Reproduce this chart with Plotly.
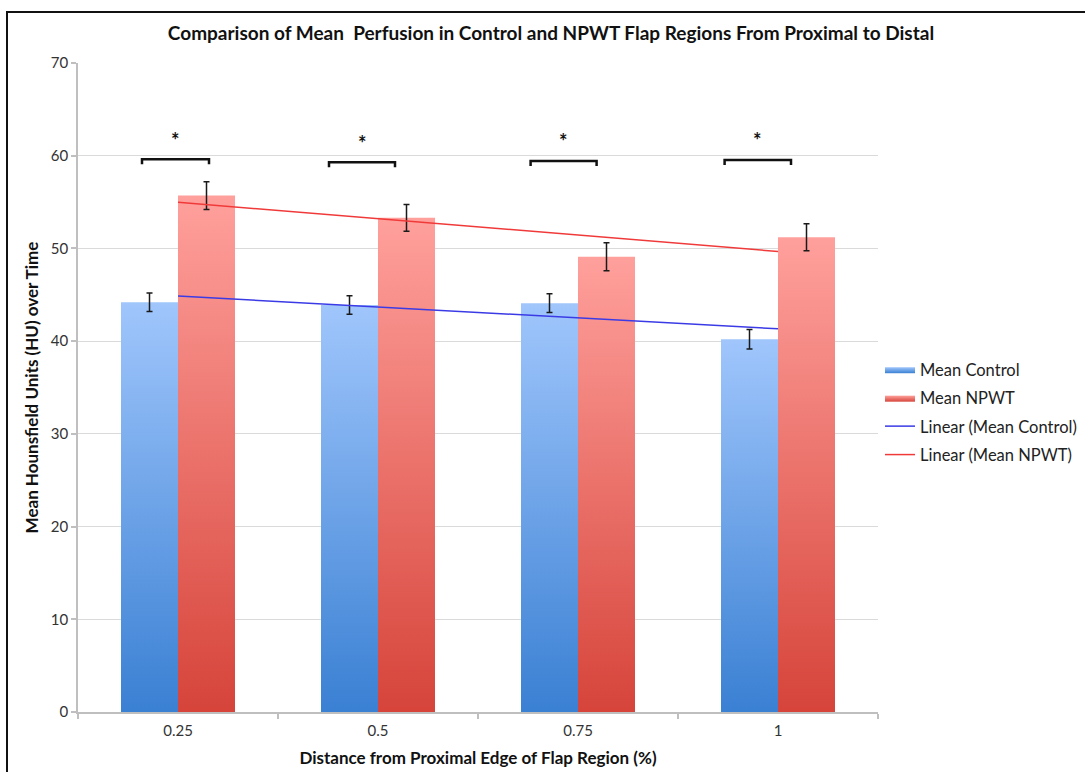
import numpy as np
import plotly.graph_objects as go

# Flap region distance categories (x axis)
categories = ["0.25", "0.5", "0.75", "1"]

# Mean perfusion (Hounsfield units) per region
mean_control = [44.2, 43.9, 44.1, 40.2]
mean_npwt = [55.7, 53.3, 49.1, 51.2]

# Error bar half-lengths
err_control = [1.0, 1.0, 1.0, 1.05]
err_npwt = [1.5, 1.45, 1.5, 1.45]

# Significance brackets: left/right extents (category units) and height
bracket_left = [0.82, 1.755, 2.763, 3.733]
bracket_right = [1.155, 2.085, 3.093, 4.065]
bracket_top = [59.62, 59.3, 59.44, 59.55]
bracket_labels = ["*", "*", "*", "*"]

FONT = "Lato"
BAR_W = 0.285
pos = np.arange(1, len(categories) + 1)

ctrl_scale = [[0, "#3A80D3"], [1, "#A0C6FC"]]
npwt_scale = [[0, "#D6443A"], [1, "#FFA09C"]]

fig = go.Figure()


def add_bar_series(values, offset_left, scale, name, group):
    for i, (x, v) in enumerate(zip(pos, values)):
        x0 = x - BAR_W if offset_left else x
        x1 = x0 + BAR_W
        fig.add_trace(go.Scatter(
            x=[x0, x0, x1, x1, x0], y=[0, v, v, 0, 0],
            mode="lines", fill="toself", line=dict(width=0),
            fillgradient=dict(type="vertical", colorscale=scale),
            name=name, legendgroup=group, showlegend=(i == 0),
            hoverinfo="skip",
        ))


add_bar_series(mean_control, True, ctrl_scale, "Mean Control", "ctrl")
add_bar_series(mean_npwt, False, npwt_scale, "Mean NPWT", "npwt")

# Error bars at each bar's centre
for vals, errs, shift in ((mean_control, err_control, -BAR_W / 2),
                          (mean_npwt, err_npwt, BAR_W / 2)):
    fig.add_trace(go.Scatter(
        x=pos + shift, y=vals, mode="markers",
        marker=dict(size=1, color="rgba(0,0,0,0)"),
        error_y=dict(type="data", array=errs, visible=True,
                     color="#1a1a1a", thickness=1.5, width=3),
        showlegend=False, hoverinfo="skip",
    ))

# Linear trend lines fitted to each series
for vals, name, color, group in ((mean_control, "Linear (Mean Control)", "#3B3BE6", "lc"),
                                 (mean_npwt, "Linear (Mean NPWT)", "#F03A3A", "ln")):
    slope, intercept = np.polyfit(pos, vals, 1)
    fig.add_trace(go.Scatter(
        x=[pos[0], pos[-1]], y=[slope * pos[0] + intercept, slope * pos[-1] + intercept],
        mode="lines", line=dict(color=color, width=1.5),
        name=name, legendgroup=group,
    ))

shapes = []
annotations = []
for xl, xr, yt, lab in zip(bracket_left, bracket_right, bracket_top, bracket_labels):
    drop = 0.55
    shapes.append(dict(
        type="path", xref="x", yref="y",
        path=f"M {xl},{yt - drop} L {xl},{yt} L {xr},{yt} L {xr},{yt - drop}",
        line=dict(color="#111111", width=2.5),
    ))
    annotations.append(dict(
        x=(xl + xr) / 2, y=yt + 0.6, xref="x", yref="y", text=f"<b>{lab}</b>",
        showarrow=False, yanchor="bottom", font=dict(family=FONT, size=20, color="#111111"),
    ))

# Outer frame
L, R, T, B = 78, 878, 63, 712
px = lambda p: (p - L) / (R - L)
py = lambda p: (B - p) / (B - T)
shapes.append(dict(type="rect", xref="paper", yref="paper",
                   x0=px(7), x1=px(1100), y0=py(790), y1=py(12),
                   line=dict(color="#111111", width=2), layer="above"))

fig.update_layout(
    width=1085, height=772,
    margin=dict(l=L, r=1085 - R, t=T, b=772 - B, autoexpand=False),
    paper_bgcolor="white", plot_bgcolor="white",
    font=dict(family=FONT, color="#333333"),
    title=dict(text="<b>Comparison of Mean  Perfusion in Control and NPWT Flap Regions From Proximal to Distal</b>",
               font=dict(family=FONT, size=19, color="#111111"),
               x=px(551), xref="paper", xanchor="center",
               y=1 - 33 / 772, yref="container", yanchor="middle"),
    xaxis=dict(range=[0.5, 4.5], tickvals=list(pos), ticktext=categories,
               ticks="", showgrid=False, zeroline=False, ticklabelstandoff=4,
               showline=True, linecolor="#BFBFBF", linewidth=1.5,
               tickfont=dict(family=FONT, size=15, color="#333333"),
               minor=dict(tickvals=[0.5, 1.5, 2.5, 3.5, 4.5], ticks="outside",
                          ticklen=5, tickcolor="#BFBFBF", tickwidth=1.5, showgrid=False),
               title=dict(text="<b>Distance from Proximal Edge of Flap Region (%)</b>",
                          font=dict(family=FONT, size=17, color="#111111"), standoff=14)),
    yaxis=dict(range=[0, 70], dtick=10, ticks="outside", ticklen=5,
               tickcolor="#BFBFBF", tickwidth=1.5,
               showgrid=True, gridcolor="#DADADA", gridwidth=1, zeroline=False,
               showline=True, linecolor="#BFBFBF", linewidth=1.5,
               tickfont=dict(family=FONT, size=15, color="#333333"),
               title=dict(text="<b>Mean Hounsfield Units (HU) over Time</b>",
                          font=dict(family=FONT, size=17, color="#111111"), standoff=8)),
    legend=dict(x=px(880), y=py(352), xanchor="left", yanchor="top",
                font=dict(family=FONT, size=16.5, color="#222222"),
                tracegroupgap=4, itemwidth=30, bgcolor="rgba(0,0,0,0)"),
    shapes=shapes, annotations=annotations,
    showlegend=True,
)

fig.write_html("out.html")
